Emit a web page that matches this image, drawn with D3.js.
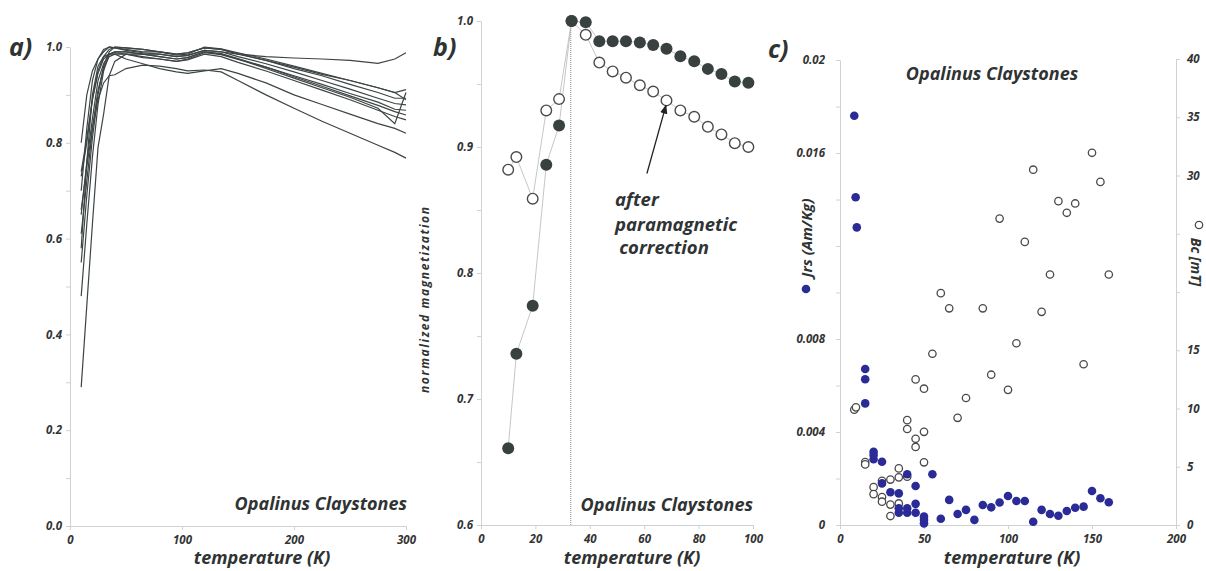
<!DOCTYPE html>
<html>
<head>
<meta charset="utf-8">
<script src="https://cdn.jsdelivr.net/npm/d3@7"></script>
<style>
  body { margin: 0; background: #fff; }
  svg { display: block; font-family: "Open Sans", sans-serif; font-style: italic; font-weight: 700; }
  .axis path, .axis line { stroke: #cfd2d4; }
  .axis text { fill: #333; font-family: "Open Sans", sans-serif; font-size: 11.5px; font-style: italic; font-weight: 700; }
  .lab { fill: #2f3333; }
</style>
</head>
<body>
<svg id="fig" width="1206" height="571"></svg>
<script>
// panel a: normalized magnetization curves ------------------
const aTemps = [10, 15, 20, 25, 30, 35, 40, 50, 65, 80, 95, 105, 120, 135, 150, 175, 200, 225, 250, 275, 290, 300]
const aCurves = [
    [0.80, 0.90, 0.95, 0.975, 0.99, 1.00, 0.998, 0.995, 0.99, 0.99, 0.985, 0.988, 0.998, 0.995, 0.985, 0.972, 0.958, 0.943, 0.93, 0.915, 0.905, 0.89],
    [0.73, 0.80, 0.89, 0.95, 0.98, 0.995, 1.0, 0.998, 0.995, 0.99, 0.983, 0.985, 1.0, 0.996, 0.988, 0.975, 0.96, 0.945, 0.93, 0.915, 0.905, 0.911],
    [0.65, 0.76, 0.85, 0.93, 0.965, 0.985, 0.99, 0.99, 0.985, 0.985, 0.98, 0.982, 0.993, 0.99, 0.98, 0.965, 0.948, 0.93, 0.912, 0.893, 0.882, 0.879],
    [0.61, 0.72, 0.83, 0.91, 0.955, 0.98, 0.985, 0.985, 0.98, 0.975, 0.97, 0.975, 0.988, 0.984, 0.974, 0.958, 0.94, 0.922, 0.903, 0.885, 0.87, 0.868],
    [0.55, 0.69, 0.81, 0.90, 0.96, 0.99, 1.0, 0.998, 0.995, 0.99, 0.985, 0.988, 0.998, 0.995, 0.986, 0.972, 0.955, 0.94, 0.922, 0.905, 0.893, 0.893],
    [0.48, 0.63, 0.77, 0.88, 0.95, 0.985, 0.99, 0.99, 0.985, 0.98, 0.975, 0.978, 0.99, 0.985, 0.975, 0.955, 0.935, 0.915, 0.895, 0.872, 0.84, 0.905],
    [0.29, 0.46, 0.63, 0.79, 0.86, 0.94, 0.97, 0.985, 0.985, 0.98, 0.975, 0.978, 0.99, 0.986, 0.976, 0.958, 0.938, 0.918, 0.898, 0.878, 0.865, 0.858],
    [0.70, 0.83, 0.93, 0.975, 0.995, 1.0, 0.998, 0.993, 0.988, 0.985, 0.98, 0.983, 0.993, 0.99, 0.985, 0.98, 0.977, 0.975, 0.972, 0.966, 0.975, 0.988],
    [0.66, 0.75, 0.83, 0.89, 0.925, 0.94, 0.942, 0.955, 0.962, 0.96, 0.955, 0.95, 0.952, 0.948, 0.93, 0.90, 0.872, 0.845, 0.82, 0.795, 0.78, 0.768],
    [0.74, 0.81, 0.89, 0.945, 0.975, 0.985, 0.988, 0.985, 0.978, 0.975, 0.97, 0.973, 0.985, 0.98, 0.968, 0.95, 0.93, 0.91, 0.89, 0.868, 0.855, 0.848],
    [0.58, 0.76, 0.90, 0.96, 0.98, 0.985, 0.985, 0.975, 0.965, 0.955, 0.948, 0.945, 0.95, 0.955, 0.945, 0.925, 0.90, 0.88, 0.86, 0.84, 0.83, 0.82]
]

// panel b: one sample, raw and corrected ------------------
const bTemps = [10, 13, 19, 24, 28.7, 33.3, 38.5, 43.5, 48.4, 53.3, 58.4, 63.3, 68.2, 73.3, 78.4, 83.4, 88.4, 93.3, 98.3]
const bRaw = [0.661, 0.736, 0.774, 0.886, 0.917, 1.0, 0.999, 0.984, 0.984, 0.984, 0.983, 0.981, 0.978, 0.972, 0.968, 0.962, 0.958, 0.952, 0.951]
const bCorrected = [0.882, 0.892, 0.859, 0.929, 0.938, 1.0, 0.989, 0.967, 0.960, 0.955, 0.949, 0.944, 0.937, 0.929, 0.924, 0.916, 0.910, 0.903, 0.900]
const bTransition = 33

// panel c: Jrs and Bc vs temperature ------------------
const cJrsTemp = [8.5, 9.3, 10, 15, 15, 15, 20, 20, 20, 25, 25, 30, 35, 35, 35, 40, 40, 40, 45, 45, 45, 50, 50, 50, 55, 60, 65, 70, 75, 80, 85, 90, 95, 100, 105, 110, 115, 120, 125, 130, 135, 140, 145, 150, 155, 160]
const cJrs = [0.0176, 0.0141, 0.0128, 0.00671, 0.00627, 0.00523, 0.00315, 0.00301, 0.00283, 0.00272, 0.00179, 0.00141, 0.00136, 0.00072, 0.00053, 0.00218, 0.00072, 0.00053, 0.00168, 0.00091, 0.00053, 0.00036, 0.00022, 0.00007, 0.00218, 0.00027, 0.00108, 0.00047, 0.00065, 0.00022, 0.00086, 0.00076, 0.00097, 0.00125, 0.00103, 0.00103, 0.00014, 0.00065, 0.00047, 0.0004, 0.0006, 0.00074, 0.00079, 0.00146, 0.00115, 0.00098]
const cBcTemp = [8.5, 9.5, 15, 15, 20, 20, 25, 25, 25, 30, 30, 30, 35, 35, 35, 40, 40, 40, 45, 45, 45, 50, 50, 50, 55, 60, 65, 70, 75, 85, 90, 95, 100, 105, 110, 115, 120, 125, 130, 135, 140, 145, 150, 155, 160]
const cBc = [9.9, 10.1, 5.4, 5.2, 3.25, 2.65, 3.8, 2.4, 2.0, 3.9, 1.75, 0.77, 4.86, 4.09, 1.85, 9.0, 8.24, 4.14, 12.5, 7.4, 6.7, 11.7, 8.0, 5.38, 14.7, 19.9, 18.6, 9.2, 10.9, 18.6, 12.9, 26.3, 11.6, 15.6, 24.3, 30.5, 18.3, 21.5, 27.8, 26.8, 27.6, 13.8, 31.95, 29.45, 21.5]

const colours = {
    curve: '#3d4444',
    dark: '#394040',
    link: '#b8b8b8',
    blue: '#2b2b98',
    ring: '#4a4a4a'
}

const svg = d3.select('#fig')

function styleAxis(g) {
    g.attr('font-family', null).attr('font-size', null)
}

function addText(x, y, txt, size, anchor) {
    return svg.append('text')
        .attr('class', 'lab')
        .attr('x', x)
        .attr('y', y)
        .attr('font-size', size)
        .attr('text-anchor', anchor || 'start')
        .text(txt)
}

// ---------------- panel a
const ax = d3.scaleLinear().domain([0, 300]).range([70, 406])
const ay = d3.scaleLinear().domain([0, 1]).range([526, 47])

svg.append('g')
    .attr('class', 'axis')
    .attr('transform', 'translate(0,' + ay(0) + ')')
    .call(d3.axisBottom(ax).tickValues([0, 100, 200, 300]).tickSize(4).tickPadding(6).tickSizeOuter(0))
    .call(styleAxis)

svg.append('g')
    .attr('class', 'axis')
    .attr('transform', 'translate(' + ax(0) + ',0)')
    .call(d3.axisLeft(ay).tickValues(d3.range(0, 1.01, 0.1)).tickSize(4).tickPadding(4).tickSizeOuter(0)
        .tickFormat((d, i) => i % 2 ? '' : d3.format('.1f')(d)))
    .call(styleAxis)

const aLine = d3.line()
    .x((d, i) => ax(aTemps[i]))
    .y(d => ay(d))

svg.append('g')
    .selectAll('path')
    .data(aCurves)
    .join('path')
    .attr('d', aLine)
    .attr('fill', 'none')
    .attr('stroke', colours.curve)
    .attr('stroke-width', 1.2)

addText(9, 56, 'a)', 25)
addText(262, 564, 'temperature (K)', 18, 'middle')
addText(407, 510, 'Opalinus Claystones', 18, 'end')

// ---------------- panel b
const bx = d3.scaleLinear().domain([0, 100]).range([481, 753])
const by = d3.scaleLinear().domain([0.6, 1.0]).range([525, 21])

svg.append('g')
    .attr('class', 'axis')
    .attr('transform', 'translate(0,' + by(0.6) + ')')
    .call(d3.axisBottom(bx).tickValues(d3.range(0, 101, 20)).tickSize(4).tickPadding(6).tickSizeOuter(0))
    .call(styleAxis)

svg.append('g')
    .attr('class', 'axis')
    .attr('transform', 'translate(' + bx(0) + ',0)')
    .call(d3.axisLeft(by).tickValues(d3.range(0.6, 1.001, 0.05)).tickSize(4).tickPadding(4).tickSizeOuter(0)
        .tickFormat((d, i) => i % 2 ? '' : d3.format('.1f')(d)))
    .call(styleAxis)

svg.append('line')
    .attr('x1', bx(bTransition)).attr('x2', bx(bTransition))
    .attr('y1', by(1.0) - 3).attr('y2', by(0.6))
    .attr('stroke', '#8a8f96')
    .attr('stroke-width', 1)
    .attr('stroke-dasharray', '1,1')

const bLine = d3.line()
    .x((d, i) => bx(bTemps[i]))
    .y(d => by(d))

svg.append('path')
    .attr('d', bLine(bCorrected))
    .attr('fill', 'none').attr('stroke', colours.link).attr('stroke-width', 0.8)
svg.append('path')
    .attr('d', bLine(bRaw))
    .attr('fill', 'none').attr('stroke', colours.link).attr('stroke-width', 0.8)

svg.append('g')
    .selectAll('circle')
    .data(bCorrected)
    .join('circle')
    .attr('cx', (d, i) => bx(bTemps[i]))
    .attr('cy', d => by(d))
    .attr('r', 5.3)
    .attr('fill', '#fff')
    .attr('stroke', colours.ring)
    .attr('stroke-width', 1.4)

svg.append('g')
    .selectAll('circle')
    .data(bRaw)
    .join('circle')
    .attr('cx', (d, i) => bx(bTemps[i]))
    .attr('cy', d => by(d))
    .attr('r', 6)
    .attr('fill', colours.dark)

// arrow to corrected curve
svg.append('defs').append('marker')
    .attr('id', 'head')
    .attr('viewBox', '0 0 10 10')
    .attr('refX', 9).attr('refY', 5)
    .attr('markerWidth', 7).attr('markerHeight', 7)
    .attr('orient', 'auto')
    .append('path')
    .attr('d', 'M0,1 L10,5 L0,9 Z')
    .attr('fill', '#222')

svg.append('line')
    .attr('x1', bx(61)).attr('y1', by(0.879))
    .attr('x2', bx(68)).attr('y2', by(0.933))
    .attr('stroke', '#222')
    .attr('stroke-width', 1.3)
    .attr('marker-end', 'url(#head)')

addText(bx(49.3), 206, 'after', 18.5)
addText(bx(49.3), 231, 'paramagnetic', 18.5)
addText(bx(50.8), 254, 'correction', 18.5)

addText(433, 56, 'b)', 25)
addText(632, 564, 'temperature (K)', 18, 'middle')
addText(753, 511, 'Opalinus Claystones', 18, 'end')
addText(0, 0, 'normalized magnetization', 12, 'middle')
    .attr('textLength', 186)
    .attr('lengthAdjust', 'spacing')
    .attr('transform', 'translate(429,300) rotate(-90)')

// ---------------- panel c
const cx = d3.scaleLinear().domain([0, 200]).range([840, 1176])
const cyL = d3.scaleLinear().domain([0, 0.02]).range([525, 60])
const cyR = d3.scaleLinear().domain([0, 40]).range([525, 59])

svg.append('g')
    .attr('class', 'axis')
    .attr('transform', 'translate(0,' + cyL(0) + ')')
    .call(d3.axisBottom(cx).tickValues(d3.range(0, 201, 50)).tickSize(4).tickPadding(6).tickSizeOuter(0))
    .call(styleAxis)

const leftLabelled = [0, 0.004, 0.008, 0.016, 0.02]
svg.append('g')
    .attr('class', 'axis')
    .attr('transform', 'translate(' + cx(0) + ',0)')
    .call(d3.axisLeft(cyL).tickValues(d3.range(0, 0.0201, 0.002)).tickSize(4).tickPadding(11).tickSizeOuter(0)
        .tickFormat(d => leftLabelled.some(v => Math.abs(v - d) < 1e-6) ? (d < 1e-9 ? '0' : String(+d.toFixed(3))) : ''))
    .call(styleAxis)

svg.append('g')
    .attr('class', 'axis')
    .attr('transform', 'translate(' + cx(200) + ',0)')
    .call(d3.axisRight(cyR).tickValues(d3.range(0, 41, 5)).tickSize(4).tickPadding(7).tickSizeOuter(0)
        .tickFormat(d => d === 20 || d === 25 ? '' : d))
    .call(styleAxis)

svg.append('g')
    .selectAll('circle')
    .data(cBc)
    .join('circle')
    .attr('cx', (d, i) => cx(cBcTemp[i]))
    .attr('cy', d => cyR(d))
    .attr('r', 3.7)
    .attr('fill', '#fff')
    .attr('stroke', colours.ring)
    .attr('stroke-width', 1.3)

svg.append('g')
    .selectAll('circle')
    .data(cJrs)
    .join('circle')
    .attr('cx', (d, i) => cx(cJrsTemp[i]))
    .attr('cy', d => cyL(d))
    .attr('r', 4.3)
    .attr('fill', colours.blue)

addText(768, 58, 'c)', 25)
addText(992, 80, 'Opalinus Claystones', 18, 'middle')
addText(1012, 564, 'temperature (K)', 18, 'middle')

// axis titles with their legend symbols
addText(0, 0, 'Jrs (Am/Kg)', 15, 'middle')
    .attr('transform', 'translate(812,238) rotate(-90)')
svg.append('circle')
    .attr('cx', 806).attr('cy', 289).attr('r', 4.3)
    .attr('fill', colours.blue)

addText(0, 0, 'Bc [mT]', 14, 'middle')
    .attr('transform', 'translate(1191,262) rotate(90)')
svg.append('circle')
    .attr('cx', 1199).attr('cy', 225).attr('r', 3.7)
    .attr('fill', '#fff')
    .attr('stroke', colours.ring)
    .attr('stroke-width', 1.3)
</script>
</body>
</html>
